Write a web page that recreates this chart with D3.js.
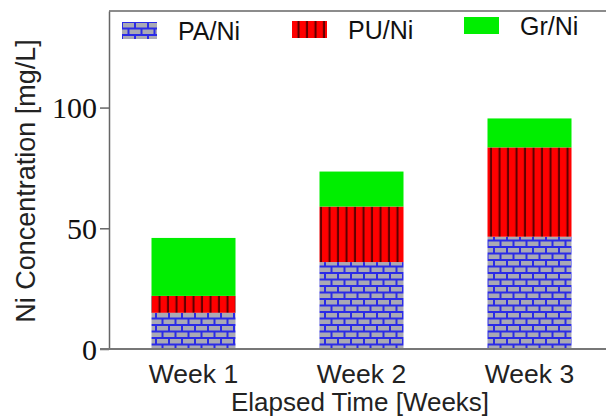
<!DOCTYPE html>
<html>
<head>
<meta charset="utf-8">
<script src="https://cdn.jsdelivr.net/npm/d3@7"></script>
<style>
  body { margin: 0; background: #fff; }
  svg { display: block; }
</style>
</head>
<body>
<div id="chart"></div>
<script>
'use strict';

// data
var weeks = ["Week 1", "Week 2", "Week 3"];
var series = ["PA/Ni", "PU/Ni", "Gr/Ni"];
var paValues = [15, 36, 46.5];
var puValues = [7, 23, 37];
var grValues = [24, 14.5, 12];
var yTicks = [0, 50, 100];

var svgWidth = 606, svgHeight = 419;
var margin = {top: 11, left: 109};
var plotBottom = 349;

var svg = d3.select("#chart").append("svg")
  .attr("width", svgWidth)
  .attr("height", svgHeight);

// patterns
var defs = svg.append("defs");
var brick = defs.append("pattern")
  .attr("id", "brick")
  .attr("patternUnits", "userSpaceOnUse")
  .attr("width", 13).attr("height", 13);
brick.append("rect").attr("width", 13).attr("height", 13).attr("fill", "#2b2be6");
[[1, 1], [7.5, 7.5], [-5.5, 7.5]].forEach(function(p) {
  brick.append("rect")
    .attr("x", p[0]).attr("y", p[1])
    .attr("width", 11).attr("height", 4.5)
    .attr("fill", "#a9a9b4");
});

var stripe = defs.append("pattern")
  .attr("id", "stripe")
  .attr("patternUnits", "userSpaceOnUse")
  .attr("width", 8.5).attr("height", 10);
stripe.append("rect").attr("width", 8.5).attr("height", 10).attr("fill", "#ff0000");
stripe.append("rect").attr("x", 5.5).attr("width", 2).attr("height", 10).attr("fill", "#5a0000");

var fills = ["url(#brick)", "url(#stripe)", "#00ee00"];

// scales
var x = d3.scaleBand()
  .domain(weeks)
  .range([109.5, 613.5])
  .paddingInner(0.5)
  .paddingOuter(0.25);

var y = d3.scaleLinear()
  .domain([0, 140])
  .range([plotBottom, margin.top]);

// stacked data
var rows = weeks.map(function(w, i) {
  return {week: w, "PA/Ni": paValues[i], "PU/Ni": puValues[i], "Gr/Ni": grValues[i]};
});
var stacked = d3.stack().keys(series)(rows);

svg.append("g")
  .selectAll("g")
  .data(stacked)
  .join("g")
    .attr("fill", function(d, i) { return fills[i]; })
  .selectAll("rect")
  .data(function(d) { return d; })
  .join("rect")
    .attr("x", function(d) { return x(d.data.week); })
    .attr("y", function(d) { return y(d[1]); })
    .attr("width", x.bandwidth())
    .attr("height", function(d) { return y(d[0]) - y(d[1]); });

// frame (top line)
svg.append("line")
  .attr("x1", margin.left).attr("x2", svgWidth)
  .attr("y1", margin.top).attr("y2", margin.top)
  .attr("stroke", "#666").attr("stroke-width", 1.5);

// y axis
var yAxis = svg.append("g")
  .attr("transform", "translate(" + margin.left + ",0)")
  .call(d3.axisLeft(y).tickValues(yTicks).tickSize(9).tickPadding(3).tickSizeOuter(0));
yAxis.select(".domain").attr("stroke", "#666").attr("stroke-width", 1.5);
yAxis.selectAll(".tick line").attr("stroke", "#666").attr("stroke-width", 1.5);
yAxis.selectAll(".tick text")
  .attr("font-family", "'Liberation Serif', 'Times New Roman', serif")
  .attr("font-size", 30)
  .attr("fill", "#111")
  .attr("dy", "0.34em");

// x axis
var xAxis = svg.append("g")
  .attr("transform", "translate(0," + plotBottom + ")")
  .call(d3.axisBottom(x).tickSize(0).tickPadding(15));
xAxis.select(".domain")
  .attr("d", "M100,0H" + svgWidth)
  .attr("stroke", "#777").attr("stroke-width", 2);
xAxis.selectAll(".tick text")
  .attr("font-family", "'Liberation Sans', Arial, sans-serif")
  .attr("font-size", 26.5)
  .attr("fill", "#222");

// axis titles
svg.append("text")
  .attr("x", 360).attr("y", 411)
  .attr("text-anchor", "middle")
  .attr("font-family", "'Liberation Sans', Arial, sans-serif")
  .attr("font-size", 26)
  .attr("fill", "#222")
  .text("Elapsed Time [Weeks]");

svg.append("text")
  .attr("transform", "translate(35,181) rotate(-90)")
  .attr("text-anchor", "middle")
  .attr("font-family", "'Liberation Sans', Arial, sans-serif")
  .attr("font-size", 27)
  .attr("fill", "#222")
  .text("Ni Concentration [mg/L]");

// legend
var legendPos = [{x: 122, y: 22}, {x: 292, y: 21}, {x: 464, y: 17}];
var legend = svg.append("g")
  .selectAll("g")
  .data(series)
  .join("g")
    .attr("transform", function(d, i) { return "translate(" + legendPos[i].x + "," + legendPos[i].y + ")"; });
legend.append("rect")
  .attr("width", 35).attr("height", 17)
  .attr("fill", function(d, i) { return fills[i]; });
legend.append("text")
  .attr("x", 56).attr("y", 18)
  .attr("font-family", "'Liberation Sans', Arial, sans-serif")
  .attr("font-size", 25)
  .attr("fill", "#111")
  .text(function(d) { return d; });
</script>
</body>
</html>
